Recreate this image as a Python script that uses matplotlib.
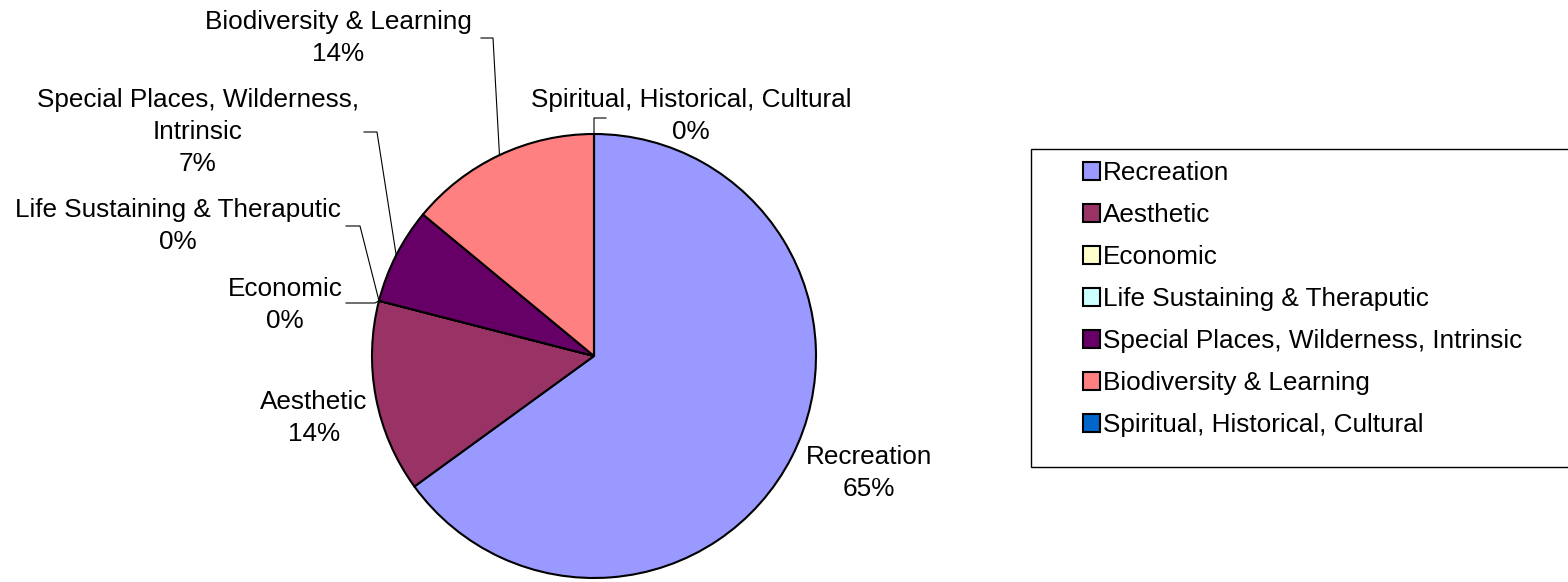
import numpy as np
import matplotlib
matplotlib.use("Agg")
from matplotlib import pyplot as plt
from matplotlib.patches import Rectangle

plt.rcParams['font.family'] = ['Liberation Sans', 'DejaVu Sans']

# data
categories = ["Recreation", "Aesthetic", "Economic", "Life Sustaining & Theraputic",
              "Special Places, Wilderness, Intrinsic", "Biodiversity & Learning",
              "Spiritual, Historical, Cultural"]
shares = [65, 14, 0, 0, 7, 14, 0]
pie_labels = ["Recreation", "Aesthetic", "Economic", "Life Sustaining & Theraputic",
              "Special Places, Wilderness,\nIntrinsic", "Biodiversity & Learning",
              "Spiritual, Historical, Cultural"]
colors = ["#9999FF", "#993366", "#FFFFCC", "#CCFFFF", "#660066", "#FF8080", "#0066CC"]

W, H = 1568, 582
fig = plt.figure(figsize=(W / 100, H / 100), dpi=100)

# pie in a square axes: centre (594,356) px, radius 222 px
cx, cy, r = 594, 356, 222
ax = fig.add_axes([(cx - r) / W, (H - cy - r) / H, 2 * r / W, 2 * r / H])
wedges, _ = ax.pie(shares, colors=colors, startangle=90, counterclock=False,
                   wedgeprops=dict(edgecolor='black', linewidth=1.5))
ax.set_xlim(-1, 1)
ax.set_ylim(-1, 1)
ax.set_axis_off()


def px(x, y):
    # pixel position -> pie data coords
    return ((x - cx) / r, (cy - y) / r)


# label centres and leader elbows (pixels)
label_pos = [(869, 473), (314, 418), (285, 305), (178, 226), (198, 132), (338, 38), (691, 116)]
elbows = [None, None,
          [(346, 303), (375, 303)],
          [(346, 226), (360, 226)],
          [(364, 132), (377, 132)],
          [(481, 38), (493, 38)],
          [(606, 118), (594, 118)]]

fs = 18.8
for w, lab, val, pos, elb in zip(wedges, pie_labels, shares, label_pos, elbows):
    ang = np.deg2rad((w.theta1 + w.theta2) / 2)
    edge = (np.cos(ang), np.sin(ang))
    ax.text(*px(*pos), f"{lab}\n{val}%", ha='center', va='center', ma='center',
            fontsize=fs, linespacing=1.4)
    if elb:
        pts = [px(*p) for p in elb] + [edge]
        ax.plot([p[0] for p in pts], [p[1] for p in pts], color='black', lw=0.8, clip_on=False)

# legend box runs off the right edge
fig.patches.append(Rectangle((1031 / W, 1 - 467 / H), (W + 10 - 1031) / W, (467 - 149) / H,
                             transform=fig.transFigure, fill=False, edgecolor='black', lw=1))
fig.legend(wedges, categories, loc='upper left', bbox_to_anchor=(1083 / W, 1 - 161 / H),
           frameon=False, fontsize=fs, handlelength=0.65, handleheight=0.65,
           handletextpad=0.12, labelspacing=0.69, borderpad=0, borderaxespad=0)

fig.savefig('out.png', dpi=100)
